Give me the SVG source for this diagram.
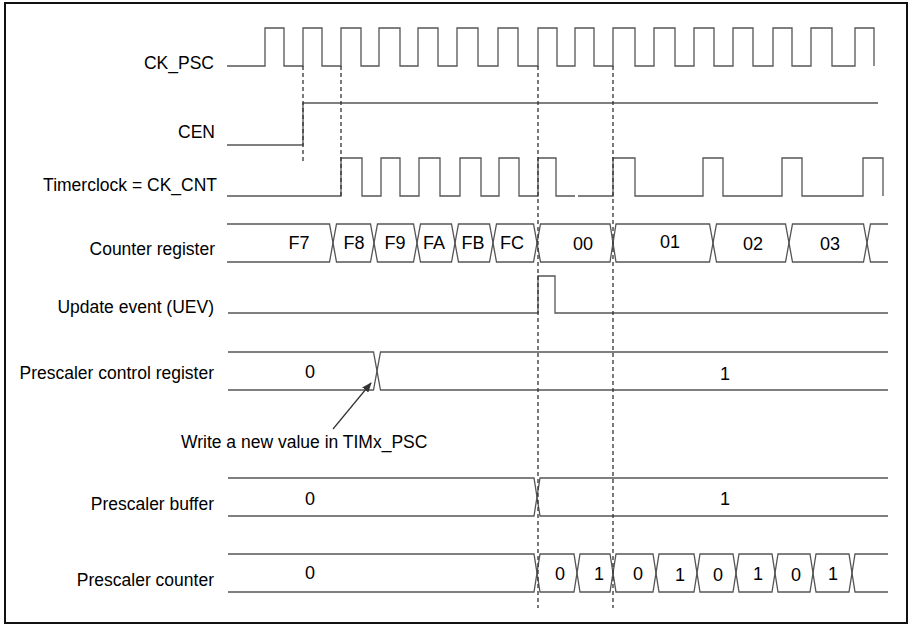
<svg xmlns="http://www.w3.org/2000/svg" width="919" height="633" viewBox="0 0 919 633">
<style>
.w{fill:none;stroke:#555;stroke-width:1.3;stroke-linejoin:miter}
.d{fill:none;stroke:#333;stroke-width:1.3;stroke-dasharray:4 3}
.lbl{font-family:"Liberation Sans",Arial,sans-serif;font-size:17.5px;fill:#000;text-anchor:end}
.v{font-family:"Liberation Sans",Arial,sans-serif;font-size:18px;fill:#000;text-anchor:middle}
.n{font-family:"Liberation Sans",Arial,sans-serif;font-size:17.5px;fill:#000}
</style>
<defs>
<marker id="ah" markerWidth="10" markerHeight="8" refX="9" refY="4" orient="auto" markerUnits="userSpaceOnUse">
<path d="M0,0 L10,4 L0,8 Z" fill="#333"/>
</marker>
</defs>
<rect x="0" y="0" width="919" height="633" fill="#fff"/>
<rect x="5" y="3" width="902" height="620" fill="#fff" stroke="#111" stroke-width="2"/>

<g id="ck_psc">
<text class="lbl" x="214" y="69">CK_PSC</text>
<polyline class="w" points="227,66 265,66 265,28 284,28 284,66 303,66 303,28 322,28 322,66 341,66 341,28 361,28 361,66 379,66 379,28 400,28 400,66 418,66 418,28 438,28 438,66 457,66 457,28 478,28 478,66 498,66 498,28 518,28 518,66 538,66 538,28 557,28 557,66 575,66 575,28 594,28 594,66 613,66 613,28 635,28 635,66 654,66 654,28 675,28 675,66 694,66 694,28 714,28 714,66 733,66 733,28 753,28 753,66 773,66 773,28 792,28 792,66 811,66 811,28 832,28 832,66 855,66 855,28 874,28 874,66"/>
</g>

<g id="cen">
<text class="lbl" x="215" y="138">CEN</text>
<polyline class="w" points="227,145 303,145 303,103 878,103"/>
</g>

<g id="timerclock">
<text class="lbl" x="217" y="191">Timerclock = CK_CNT</text>
<polyline class="w" points="227,196 341,196 341,158 362,158 362,196 381,196 381,158 400,158 400,196 419,196 419,158 440,158 440,196 460,196 460,158 481,158 481,196 499,196 499,158 519,158 519,196 538,196 538,158 556,158 556,196 575,196"/>
<polyline class="w" points="578,196 613,196 613,158 635,158 635,196 703,196 703,158 723,158 723,196 782,196 782,158 802,158 802,196 863,196 863,158 883,158 883,196"/>
</g>

<g id="counter_register">
<text class="lbl" x="215" y="255">Counter register</text>
<path class="w" d="M227,224 H329.5 L336.5,262 H370.5 L377.5,224 H413.5 L420.5,262 H451.5 L458.5,224 H489.5 L496.5,262 H533.5 L540.5,224 H610 L616,262 H709.5 L716.5,224 H785.5 L792.5,262 H863.5 L870.5,224 H888"/>
<path class="w" d="M227,262 H329.5 L336.5,224 H370.5 L377.5,262 H413.5 L420.5,224 H451.5 L458.5,262 H489.5 L496.5,224 H533.5 L540.5,262 H610 L616,224 H709.5 L716.5,262 H785.5 L792.5,224 H863.5 L870.5,262 H888"/>
<text class="v" x="299" y="249">F7</text>
<text class="v" x="354" y="249">F8</text>
<text class="v" x="395" y="249">F9</text>
<text class="v" x="434" y="249">FA</text>
<text class="v" x="473" y="249">FB</text>
<text class="v" x="512" y="249">FC</text>
<text class="v" x="583" y="250">00</text>
<text class="v" x="670" y="248">01</text>
<text class="v" x="753" y="250">02</text>
<text class="v" x="830" y="250">03</text>
</g>

<g id="update_event">
<text class="lbl" x="214" y="313">Update event (UEV)</text>
<polyline class="w" points="228,313 538,313 538,276 555,276 555,313 888,313"/>
</g>

<g id="prescaler_control_register">
<text class="lbl" x="214" y="379">Prescaler control register</text>
<path class="w" d="M228,352 H373.5 L380.5,390 H888"/>
<path class="w" d="M228,390 H373.5 L380.5,352 H888"/>
<text class="v" x="310" y="378">0</text>
<text class="v" x="725" y="380">1</text>
</g>

<g id="note">
<text class="n" x="181" y="448">Write a new value in TIMx_PSC</text>
</g>

<g id="prescaler_buffer">
<text class="lbl" x="214" y="510">Prescaler buffer</text>
<path class="w" d="M228,478 H534 L540,516 H888"/>
<path class="w" d="M228,516 H534 L540,478 H888"/>
<text class="v" x="310" y="505">0</text>
<text class="v" x="725" y="505">1</text>
</g>

<g id="prescaler_counter">
<text class="lbl" x="214" y="586">Prescaler counter</text>
<path class="w" d="M228,554 H534 L540,592 H574 L580,554 H610 L616,592 H653 L659,554 H694 L700,592 H733 L739,554 H772 L778,592 H810 L816,554 H849 L855,592 H888"/>
<path class="w" d="M228,592 H534 L540,554 H574 L580,592 H610 L616,554 H653 L659,592 H694 L700,554 H733 L739,592 H772 L778,554 H810 L816,592 H849 L855,554 H888"/>
<text class="v" x="310" y="579">0</text>
<text class="v" x="560" y="580">0</text>
<text class="v" x="599" y="580">1</text>
<text class="v" x="638" y="580">0</text>
<text class="v" x="680" y="581">1</text>
<text class="v" x="718" y="581">0</text>
<text class="v" x="758" y="580">1</text>
<text class="v" x="796" y="581">0</text>
<text class="v" x="833" y="580">1</text>
</g>

<g id="connectors">
<line class="d" x1="303" y1="66" x2="303" y2="162"/>
<line class="d" x1="341" y1="66" x2="341" y2="196"/>
<line class="d" x1="538" y1="66" x2="538" y2="608"/>
<line class="d" x1="613" y1="66" x2="613" y2="608"/>
<line x1="333" y1="429" x2="371" y2="383" stroke="#333" stroke-width="1.2" marker-end="url(#ah)"/>
</g>
</svg>
